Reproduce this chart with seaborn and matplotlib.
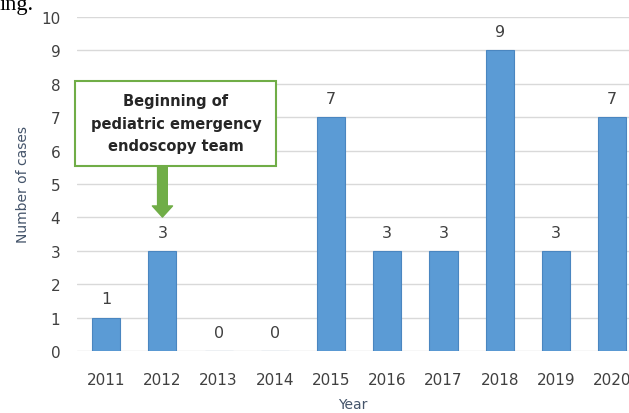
import numpy as np
import pandas as pd
from matplotlib import pyplot as plt
import seaborn as sns

# data
years = ["2011", "2012", "2013", "2014", "2015", "2016", "2017", "2018", "2019", "2020"]
cases = [1, 3, 0, 0, 7, 3, 3, 9, 3, 7]
note = "Beginning of\npediatric emergency\nendoscopy team"

df = pd.DataFrame({"Year": years, "Number of cases": cases})

sns.set_style("white")
plt.rcParams['font.family'] = ['DejaVu Sans']

W, H = 629, 414
fig = plt.figure(figsize=(W / 100, H / 100), dpi=100)
ax = fig.add_axes([77 / W, 62 / H, (W - 77) / W, (396 - 62) / H])

sns.barplot(data=df, x="Year", y="Number of cases", ax=ax, width=0.5,
            color="#5B9BD5", edgecolor="#4A86C0", linewidth=0.8, saturation=1)

ax.set_ylim(0, 10)
ax.set_xlim(-0.52, 9.30)
ax.set_yticks(range(0, 11))
ax.yaxis.grid(True, color="#D9D9D9", linewidth=1)
ax.set_axisbelow(True)
for s in ax.spines.values():
    s.set_visible(False)
ax.tick_params(axis='both', length=0, labelsize=11, labelcolor="#404040")
ax.tick_params(axis='x', pad=15)
ax.tick_params(axis='y', pad=12)

ax.set_xlabel("Year", fontsize=10, color="#44546A", labelpad=7)
ax.set_ylabel("Number of cases", fontsize=10, color="#44546A", labelpad=8)

ax.bar_label(ax.containers[0], padding=8, fontsize=11.5, color="#404040")

# annotation box + arrow
ax.annotate("", xy=(1, 4.01), xytext=(1, 5.54),
            arrowprops=dict(width=7, headwidth=14.5, headlength=8,
                            color="#70AD47", shrink=0))
box = plt.Rectangle((-0.55, 5.54), 3.57, 2.54, facecolor="white",
                    edgecolor="#70AD47", linewidth=1.5, zorder=5, clip_on=False)
ax.add_patch(box)
ax.text(1.24, 6.82, note, ha="center", va="center", fontsize=10.5,
        fontweight="bold", color="#262626", linespacing=1.62, zorder=6)

# cropped caption fragment at the very top
fig.text(0.0, 1 - 10 / H, "ing.", family="Liberation Serif", fontsize=16,
         va="baseline", ha="left", color="black")

fig.savefig("out.png", dpi=100)
